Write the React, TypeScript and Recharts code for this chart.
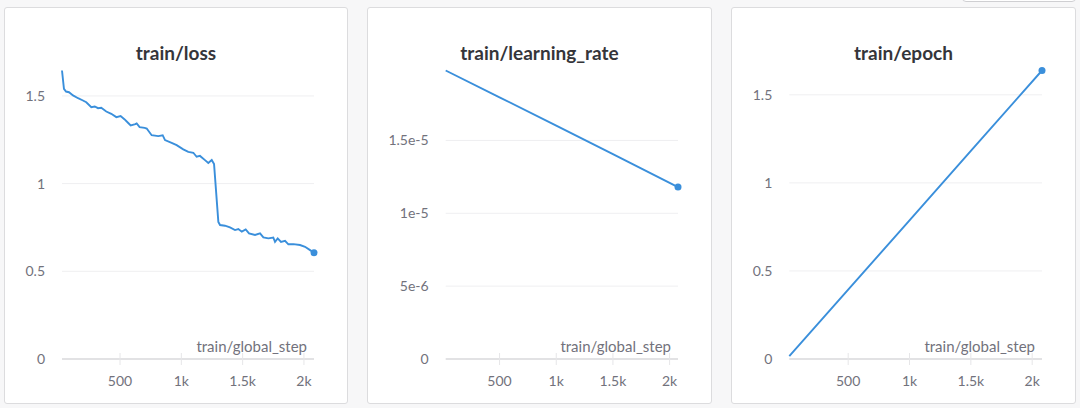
import React from "react";
import { LineChart, Line, XAxis, YAxis, ReferenceLine, Label } from "recharts";

// values (W&B style run panels)
const lossSteps = [
  27, 43, 60, 84, 117, 158, 198, 225, 266, 294, 321, 347, 388, 429, 470, 505,
  538, 565, 587, 625, 636, 660, 701, 718, 758, 812, 848, 867, 921, 962, 1016,
  1057, 1098, 1125, 1152, 1193, 1220, 1248, 1267, 1302, 1316, 1356, 1397, 1438,
  1465, 1493, 1525, 1552, 1601, 1642, 1669, 1710, 1750, 1764, 1786, 1813, 1846,
  1873, 1914, 1968, 2009, 2050, 2082,
];
const lossValues = [
  1.645, 1.54, 1.525, 1.521, 1.503, 1.487, 1.474, 1.464, 1.436, 1.44, 1.43,
  1.432, 1.411, 1.398, 1.379, 1.385, 1.366, 1.347, 1.332, 1.339, 1.343, 1.322,
  1.318, 1.314, 1.276, 1.271, 1.276, 1.248, 1.232, 1.219, 1.195, 1.181, 1.176,
  1.153, 1.158, 1.134, 1.118, 1.135, 1.111, 0.782, 0.764, 0.76, 0.75, 0.735,
  0.741, 0.726, 0.739, 0.716, 0.707, 0.716, 0.693, 0.688, 0.693, 0.668, 0.688,
  0.668, 0.674, 0.654, 0.655, 0.65, 0.64, 0.621, 0.606,
];

const lrSteps = [25, 500, 1000, 1500, 2074];
const lrValues = [1.98e-5, 1.796e-5, 1.601e-5, 1.406e-5, 1.18e-5];

const epochSteps = [20, 500, 1000, 1500, 2080];
const epochValues = [0.016, 0.394, 0.787, 1.181, 1.638];

const stepTicks = [500, 1000, 1500, 2000];
const stepLabels = ["500", "1k", "1.5k", "2k"];
const lossTicks = [0, 0.5, 1, 1.5];
const lrTicks = [0, 5e-6, 1e-5, 1.5e-5];
const lrLabels = ["0", "5e-6", "1e-5", "1.5e-5"];
const epochTicks = [0, 0.5, 1, 1.5];

const FONT = "'Source Sans Pro', Lato, 'Noto Sans', sans-serif";
const BLUE = "#3a8fdb";
const TICK = "#72727c";

function rows(steps: number[], values: number[]) {
  return steps.map((s, i) => ({ step: s, value: values[i] }));
}

type PanelProps = {
  title: string;
  left: number;
  width: number;
  data: { step: number; value: number }[];
  xDomain: [number, number];
  yDomain: [number, number];
  yTicks: number[];
  yFormat: (v: number) => string;
  yWidth: number;
};

function XTick(props: any) {
  const { x, y, payload } = props;
  const i = stepTicks.indexOf(payload.value);
  return (
    <g>
      <line x1={x} x2={x} y1={y - 6} y2={y + 6} stroke="#e6e6e8" strokeWidth={1} />
      <text x={x} y={y + 27} textAnchor="middle" fill={TICK} fontSize={14} fontFamily={FONT}>
        {stepLabels[i]}
      </text>
    </g>
  );
}

function Panel(p: PanelProps) {
  const last = p.data.length - 1;
  const gridTicks = p.yTicks.filter((t) => t !== 0);
  return (
    <div
      style={{
        position: "absolute",
        left: p.left,
        top: 7,
        width: p.width,
        height: 397,
        boxSizing: "border-box",
        border: "1px solid #dcdcde",
        borderRadius: 3,
        background: "#fff",
      }}
    >
      <div
        style={{
          position: "absolute",
          left: 0,
          right: 0,
          top: 33,
          textAlign: "center",
          fontFamily: FONT,
          fontWeight: 700,
          fontSize: 19,
          color: "#35353a",
        }}
      >
        {p.title}
      </div>
      <div style={{ position: "absolute", left: -1, top: -1 }}>
        <LineChart
          width={p.width}
          height={397}
          data={p.data}
          margin={{ top: 63.5, right: 34, bottom: 0, left: 0 }}
        >
          {gridTicks.map((t) => (
            <ReferenceLine key={t} y={t} stroke="#efeff1" strokeWidth={1} />
          ))}
          <XAxis
            dataKey="step"
            type="number"
            domain={p.xDomain}
            ticks={stepTicks}
            height={45}
            tickSize={0}
            tickMargin={0}
            tick={<XTick />}
            axisLine={{ stroke: "#e2e2e4", strokeWidth: 2 }}
            tickLine={false}
            interval={0}
          >
            <Label
              content={(lp: any) => {
                const vb = lp.viewBox;
                return (
                  <text
                    x={vb.x + vb.width - 7}
                    y={vb.y - 7}
                    textAnchor="end"
                    fill={TICK}
                    fontSize={15}
                    fontFamily={FONT}
                  >
                    train/global_step
                  </text>
                );
              }}
            />
          </XAxis>
          <YAxis
            type="number"
            domain={p.yDomain}
            ticks={p.yTicks}
            width={p.yWidth}
            axisLine={false}
            tickLine={false}
            tickSize={0}
            tickMargin={17}
            interval={0}
            tickFormatter={p.yFormat}
            tick={{ fill: TICK, fontSize: 14, fontFamily: FONT }}
          />
          <Line
            type="linear"
            dataKey="value"
            stroke={BLUE}
            strokeWidth={1.9}
            isAnimationActive={false}
            dot={(d: any) =>
              d.index === last ? (
                <circle key={d.index} cx={d.cx} cy={d.cy} r={3.5} fill={BLUE} stroke="none" />
              ) : (
                <g key={d.index} />
              )
            }
            activeDot={false}
          />
        </LineChart>
      </div>
    </div>
  );
}

export default function App() {
  return (
    <div
      style={{
        position: "absolute",
        left: 0,
        top: 0,
        width: 1080,
        height: 408,
        background: "#f7f7f8",
        overflow: "hidden",
      }}
    >
      <div
        style={{
          position: "absolute",
          left: 962,
          top: -20,
          width: 114,
          height: 22,
          boxSizing: "border-box",
          border: "1px solid #cfcfd2",
          borderRadius: 4,
          background: "#fff",
        }}
      />
      <Panel
        title="train/loss"
        left={4}
        width={344}
        data={rows(lossSteps, lossValues)}
        xDomain={[27, 2082]}
        yDomain={[0, 1.645]}
        yTicks={lossTicks}
        yFormat={(v) => String(v)}
        yWidth={58}
      />
      <Panel
        title="train/learning_rate"
        left={367}
        width={345}
        data={rows(lrSteps, lrValues)}
        xDomain={[25, 2074]}
        yDomain={[0, 1.98e-5]}
        yTicks={lrTicks}
        yFormat={(v) => lrLabels[lrTicks.indexOf(v)] ?? String(v)}
        yWidth={78.7}
      />
      <Panel
        title="train/epoch"
        left={731}
        width={345}
        data={rows(epochSteps, epochValues)}
        xDomain={[20, 2080]}
        yDomain={[0, 1.638]}
        yTicks={epochTicks}
        yFormat={(v) => String(v)}
        yWidth={58.3}
      />
    </div>
  );
}
